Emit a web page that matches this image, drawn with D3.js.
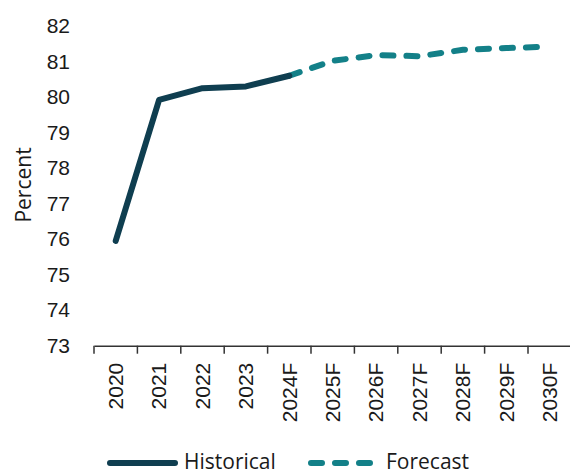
<!DOCTYPE html>
<html lang="en">
<meta charset="utf-8">
<style>
body {
  margin: 0;
  font-family: 'Open Sans', sans-serif;
  background: #fff;
}
.axis text {
  font-size: 21px;
  fill: #1a1a1a;
}
.axis .domain, .axis line {
  stroke: #333;
  stroke-width: 1.5px;
}
</style>
<body>
<div id="chart"></div>
<script src="https://d3js.org/d3.v7.min.js"></script>
<script>

// chart data
var years = ["2020", "2021", "2022", "2023", "2024F", "2025F", "2026F", "2027F", "2028F", "2029F", "2030F"];
var historical = [75.95, 79.92, 80.25, 80.3, 80.6];
var forecast = [null, null, null, null, 80.6, 81.02, 81.18, 81.15, 81.33, 81.38, 81.42];
var yTicks = [73, 74, 75, 76, 77, 78, 79, 80, 81, 82];

var width = 570,
    height = 476;

var svg = d3.select("#chart").append("svg")
    .attr("width", width)
    .attr("height", height);

var x = d3.scaleBand()
    .domain(years)
    .range([94, 571.4]);

var y = d3.scaleLinear()
    .domain([73, 82])
    .range([345.7, 26]);

// x axis
var xAxis = svg.append("g")
    .attr("class", "axis")
    .attr("transform", "translate(0," + y(73) + ")")
    .call(d3.axisBottom(x).tickSizeInner(0).tickSizeOuter(0));

xAxis.selectAll("text")
    .attr("transform", "rotate(-90)")
    .attr("x", -17)
    .attr("y", 0)
    .attr("dy", "0.35em")
    .style("text-anchor", "end");

// tick marks at band edges
xAxis.selectAll(".edge")
    .data(years)
  .enter().append("line")
    .attr("class", "edge")
    .attr("x1", function(d) { return x(d); })
    .attr("x2", function(d) { return x(d); })
    .attr("y1", 0)
    .attr("y2", 8);

// y axis (labels only)
var yAxis = svg.append("g")
    .attr("class", "axis")
    .attr("transform", "translate(70,0)")
    .call(d3.axisLeft(y).tickValues(yTicks).tickSize(0).tickPadding(0));
yAxis.select(".domain").remove();

svg.append("text")
    .attr("transform", "translate(31,185) rotate(-90)")
    .style("text-anchor", "middle")
    .style("font-size", "21px")
    .style("fill", "#1a1a1a")
    .text("Percent");

var cx = function(i) { return x(years[i]) + x.bandwidth() / 2; };

var line = d3.line()
    .defined(function(d) { return d != null; })
    .x(function(d, i) { return cx(i); })
    .y(function(d) { return y(d); });

svg.append("path")
    .datum(forecast)
    .attr("d", line)
    .attr("fill", "none")
    .attr("stroke", "#138088")
    .attr("stroke-width", 6)
    .attr("stroke-linecap", "round")
    .attr("stroke-dasharray", "11,13");

svg.append("path")
    .datum(historical)
    .attr("d", line)
    .attr("fill", "none")
    .attr("stroke", "#0f3e50")
    .attr("stroke-width", 6)
    .attr("stroke-linecap", "round")
    .attr("stroke-linejoin", "round");

// legend
var legend = svg.append("g").attr("transform", "translate(0,463)");
legend.append("line")
    .attr("x1", 110).attr("x2", 175)
    .attr("stroke", "#0f3e50").attr("stroke-width", 6).attr("stroke-linecap", "round");
legend.append("text")
    .attr("x", 184).attr("dy", "0.3em")
    .style("font-size", "21px").style("fill", "#1a1a1a")
    .text("Historical");
legend.append("line")
    .attr("x1", 311).attr("x2", 371)
    .attr("stroke", "#138088").attr("stroke-width", 6).attr("stroke-linecap", "round")
    .attr("stroke-dasharray", "11,13");
legend.append("text")
    .attr("x", 386).attr("dy", "0.3em")
    .style("font-size", "21px").style("fill", "#1a1a1a")
    .text("Forecast");

</script>
</body>
</html>
